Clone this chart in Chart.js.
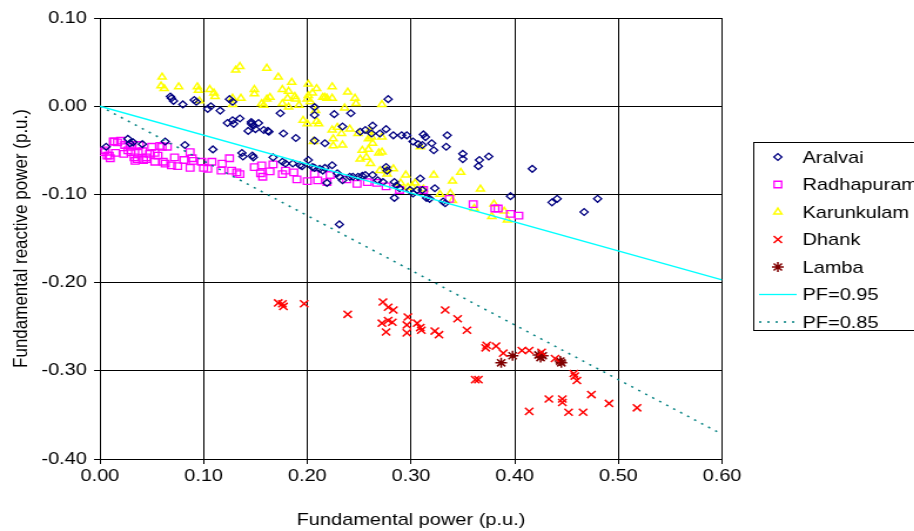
<!DOCTYPE html>
<html>
<head>
<meta charset="utf-8">
<script src="https://cdn.jsdelivr.net/npm/chart.js@4.4.0/dist/chart.umd.min.js"></script>
<style>
  html, body { margin: 0; padding: 0; overflow: hidden; background: #fff; }
  #wrap { width: 800px; height: 531px; transform: scaleX(1.175); transform-origin: 0 0; }
</style>
</head>
<body>
<div id="wrap"><canvas id="pq" width="800" height="531"></canvas></div>
<script>
// fundamental power P vs reactive power Q (p.u.)
var xTickLabels = ["0.00", "0.10", "0.20", "0.30", "0.40", "0.50", "0.60"];
var yTickLabels = ["-0.40", "-0.30", "-0.20", "-0.10", "0.00", "0.10"];
var seriesNames = ["Aralvai", "Radhapuram", "Karunkulam", "Dhank", "Lamba", "PF=0.95", "PF=0.85"];

var aralvai = [
  [0.006,-0.046],[0.027,-0.037],[0.029,-0.042],[0.032,-0.041],[0.041,-0.043],[0.063,-0.040],[0.082,-0.044],
  [0.109,-0.049],[0.137,-0.053],[0.138,-0.057],[0.147,-0.056],[0.148,-0.058],[0.167,-0.058],[0.176,-0.063],
  [0.179,-0.065],[0.186,-0.065],[0.195,-0.068],[0.201,-0.061],[0.207,-0.070],[0.212,-0.071],[0.215,-0.073],
  [0.219,-0.087],[0.229,-0.076],[0.241,-0.080],[0.244,-0.080],[0.249,-0.080],[0.256,-0.078],[0.263,-0.078],
  [0.268,-0.084],[0.273,-0.086],[0.284,-0.086],[0.286,-0.090],[0.284,-0.104],[0.289,-0.093],[0.302,-0.099],
  [0.309,-0.082],[0.311,-0.095],[0.315,-0.104],[0.318,-0.105],[0.331,-0.108],[0.333,-0.110],[0.323,-0.093],
  [0.396,-0.102],[0.436,-0.109],[0.441,-0.105],[0.467,-0.120],[0.480,-0.105],
  [0.068,0.011],[0.071,0.006],[0.069,0.009],[0.080,0.002],[0.091,0.007],[0.093,0.005],[0.104,-0.003],
  [0.107,0.000],[0.116,-0.005],[0.125,0.008],[0.128,0.005],[0.123,-0.019],[0.128,-0.016],[0.129,-0.020],
  [0.135,-0.014],[0.146,-0.018],[0.146,-0.020],[0.148,-0.022],[0.143,-0.028],[0.150,-0.026],[0.153,-0.019],
  [0.158,-0.027],[0.162,-0.028],[0.163,-0.029],[0.174,-0.008],[0.177,-0.031],[0.189,-0.036],[0.278,0.008],
  [0.207,-0.010],[0.207,-0.001],[0.226,-0.009],[0.242,-0.008],[0.234,-0.023],[0.263,-0.022],[0.276,-0.026],
  [0.251,-0.029],[0.256,-0.027],[0.262,-0.031],[0.270,-0.031],[0.283,-0.033],[0.291,-0.033],[0.296,-0.033],
  [0.312,-0.032],[0.207,-0.039],[0.217,-0.042],[0.302,-0.040],[0.307,-0.043],[0.311,-0.044],[0.314,-0.035],
  [0.320,-0.042],[0.322,-0.050],[0.335,-0.033],[0.334,-0.046],[0.350,-0.054],[0.350,-0.060],[0.366,-0.061],
  [0.365,-0.068],[0.375,-0.057],[0.417,-0.071],[0.193,-0.067],[0.205,-0.069],[0.217,-0.070],[0.224,-0.067],
  [0.231,-0.080],[0.234,-0.084],[0.253,-0.079],[0.276,-0.069],[0.277,-0.073],[0.299,-0.095],[0.306,-0.095],
  [0.231,-0.134]
];

var radhapuram = [
  [0.003,-0.052],[0.005,-0.050],[0.007,-0.056],[0.009,-0.056],[0.010,-0.059],[0.013,-0.040],[0.014,-0.040],
  [0.017,-0.041],[0.020,-0.039],[0.015,-0.053],[0.023,-0.054],[0.024,-0.044],[0.027,-0.050],[0.029,-0.046],
  [0.031,-0.044],[0.030,-0.052],[0.033,-0.058],[0.036,-0.060],[0.037,-0.053],[0.038,-0.044],[0.041,-0.051],
  [0.034,-0.062],[0.042,-0.061],[0.045,-0.058],[0.045,-0.060],[0.048,-0.054],[0.050,-0.046],[0.053,-0.053],
  [0.053,-0.063],[0.056,-0.056],[0.058,-0.045],[0.060,-0.046],[0.065,-0.046],[0.061,-0.063],[0.063,-0.065],
  [0.069,-0.067],[0.072,-0.058],[0.075,-0.068],[0.081,-0.061],[0.087,-0.052],[0.089,-0.059],[0.090,-0.062],
  [0.087,-0.070],[0.098,-0.063],[0.100,-0.070],[0.104,-0.071],[0.108,-0.063],[0.117,-0.073],[0.118,-0.065],
  [0.125,-0.059],[0.127,-0.073],[0.132,-0.075],[0.135,-0.077],[0.149,-0.069],[0.155,-0.076],[0.156,-0.067],
  [0.157,-0.080],[0.164,-0.074],[0.167,-0.066],[0.176,-0.077],[0.179,-0.073],[0.187,-0.075],[0.190,-0.083],
  [0.200,-0.085],[0.207,-0.077],[0.210,-0.084],[0.222,-0.078],[0.219,-0.086],[0.238,-0.083],[0.248,-0.088],
  [0.258,-0.086],[0.267,-0.087],[0.276,-0.091],[0.289,-0.095],[0.312,-0.095],[0.337,-0.105],[0.360,-0.111],
  [0.381,-0.116],[0.384,-0.116],[0.396,-0.122],[0.404,-0.124]
];

var karunkulam = [
  [0.060,0.033],[0.059,0.023],[0.062,0.020],[0.076,0.022],[0.094,0.022],[0.095,0.018],[0.096,0.006],
  [0.106,0.019],[0.110,0.015],[0.111,0.011],[0.131,0.041],[0.135,0.045],[0.161,0.043],[0.172,0.033],
  [0.128,0.009],[0.136,0.009],[0.128,0.002],[0.149,0.019],[0.149,0.014],[0.156,0.003],[0.158,0.001],
  [0.164,0.010],[0.161,0.008],[0.185,0.027],[0.176,0.019],[0.182,0.017],[0.181,0.009],[0.188,0.011],
  [0.189,0.008],[0.176,0.003],[0.182,-0.001],[0.192,0.001],[0.201,0.025],[0.201,0.012],[0.200,0.008],
  [0.203,0.005],[0.209,0.020],[0.205,0.015],[0.224,0.022],[0.215,0.010],[0.217,0.010],[0.219,0.009],
  [0.224,0.009],[0.239,0.016],[0.246,0.009],[0.247,0.003],[0.236,-0.002],[0.272,0.002],[0.208,-0.005],
  [0.196,-0.016],[0.200,-0.020],[0.209,-0.017],[0.211,-0.020],[0.224,-0.027],[0.229,-0.024],[0.233,-0.031],
  [0.241,-0.026],[0.249,-0.031],[0.260,-0.028],[0.206,-0.040],[0.225,-0.037],[0.234,-0.044],[0.225,-0.045],
  [0.262,-0.035],[0.259,-0.037],[0.263,-0.042],[0.253,-0.050],[0.259,-0.049],[0.272,-0.035],[0.269,-0.053],
  [0.272,-0.052],[0.251,-0.060],[0.257,-0.058],[0.261,-0.065],[0.270,-0.073],[0.276,-0.073],[0.283,-0.071],
  [0.277,-0.077],[0.295,-0.078],[0.290,-0.087],[0.297,-0.092],[0.304,-0.087],[0.312,-0.094],[0.322,-0.078],
  [0.328,-0.100],[0.340,-0.085],[0.338,-0.099],[0.340,-0.107],[0.309,-0.046],[0.348,-0.075],[0.367,-0.094],
  [0.361,-0.116],[0.380,-0.111],[0.378,-0.125],[0.390,-0.119],[0.393,-0.129],[0.301,-0.091]
];

var dhank = [
  [0.172,-0.223],[0.176,-0.224],[0.177,-0.227],[0.197,-0.224],[0.239,-0.236],[0.273,-0.222],[0.278,-0.228],
  [0.283,-0.231],[0.272,-0.246],[0.278,-0.243],[0.282,-0.245],[0.276,-0.256],[0.297,-0.239],[0.296,-0.248],
  [0.296,-0.257],[0.306,-0.246],[0.309,-0.251],[0.310,-0.254],[0.323,-0.255],[0.327,-0.259],[0.333,-0.231],
  [0.345,-0.241],[0.354,-0.254],[0.373,-0.271],[0.372,-0.274],[0.382,-0.272],[0.389,-0.280],[0.362,-0.310],
  [0.365,-0.310],[0.407,-0.277],[0.414,-0.277],[0.426,-0.279],[0.439,-0.286],[0.457,-0.303],[0.458,-0.306],
  [0.460,-0.311],[0.414,-0.346],[0.433,-0.332],[0.446,-0.332],[0.446,-0.336],[0.452,-0.347],[0.466,-0.347],
  [0.474,-0.327],[0.491,-0.337],[0.518,-0.342]
];

var lamba = [
  [0.387,-0.291],[0.398,-0.283],[0.423,-0.282],[0.425,-0.285],[0.427,-0.283],[0.444,-0.289],[0.445,-0.291]
];

// power factor reference lines, end points
var pf95 = [[0.0, 0.0], [0.6, -0.197]];
var pf85 = [[0.0, 0.0], [0.6, -0.372]];

function pts(arr) {
  return arr.map(function (p) { return { x: p[0], y: p[1] }; });
}

var fontFamily = '"Liberation Sans", Arial, sans-serif';
Chart.defaults.font.family = fontFamily;
Chart.defaults.font.size = 17;
Chart.defaults.color = "#000";

function markerSet(label, data, style, color, radius, width) {
  return {
    label: label,
    data: pts(data),
    pointStyle: style,
    pointRadius: radius,
    pointHoverRadius: radius,
    borderColor: color,
    backgroundColor: "rgba(0,0,0,0)",
    borderWidth: width,
    pointBorderWidth: width,
    showLine: false
  };
}

// legend drawn by hand so it can sit in its own box and run off the right edge like the original
var boxLegend = {
  id: "boxLegend",
  afterDraw: function (chart) {
    var ctx = chart.ctx;
    ctx.save();
    ctx.strokeStyle = "#000";
    ctx.lineWidth = 1;
    ctx.setLineDash([]);
    ctx.strokeRect(641.5, 142.5, 200, 188);
    ctx.font = "17px " + fontFamily;
    ctx.textBaseline = "middle";
    ctx.textAlign = "left";
    chart.data.datasets.forEach(function (ds, i) {
      var y = 157 + i * 27.5;
      ctx.strokeStyle = ds.borderColor;
      ctx.lineWidth = ds.borderWidth;
      if (ds.showLine) {
        ctx.setLineDash(ds.borderDash || []);
        ctx.beginPath();
        ctx.moveTo(646, y);
        ctx.lineTo(678, y);
        ctx.stroke();
        ctx.setLineDash([]);
      } else {
        ctx.fillStyle = "rgba(0,0,0,0)";
        Chart.helpers.drawPoint(ctx, {
          pointStyle: ds.pointStyle,
          radius: ds.pointRadius,
          rotation: 0,
          borderWidth: ds.borderWidth
        }, 662, y);
      }
      ctx.fillStyle = "#000";
      ctx.fillText(ds.label, 683, y + 1);
    });
    ctx.restore();
  }
};

var ctx = document.getElementById("pq").getContext("2d");
var pqChart = new Chart(ctx, {
  type: "scatter",
  data: {
    datasets: [
      markerSet(seriesNames[0], aralvai, "rectRot", "#000080", 3.4, 1.3),
      markerSet(seriesNames[1], radhapuram, "rect", "#FF00FF", 4.6, 1.3),
      markerSet(seriesNames[2], karunkulam, "triangle", "#FFFF00", 3.9, 1.5),
      markerSet(seriesNames[3], dhank, "crossRot", "#FF0000", 5, 1.5),
      markerSet(seriesNames[4], lamba, "star", "#800000", 5, 1.5),
      {
        label: seriesNames[5],
        data: pts(pf95),
        showLine: true,
        borderColor: "#00FFFF",
        borderWidth: 1.3,
        pointRadius: 0,
        order: -1
      },
      {
        label: seriesNames[6],
        data: pts(pf85),
        showLine: true,
        borderColor: "#008080",
        borderWidth: 1.5,
        borderDash: [2, 5],
        pointRadius: 0,
        order: -1
      }
    ]
  },
  options: {
    responsive: false,
    animation: false,
    layout: { padding: { top: 18, right: 185.5, left: 0, bottom: 0 } },
    plugins: {
      legend: { display: false },
      tooltip: { enabled: false }
    },
    scales: {
      x: {
        type: "linear",
        min: 0,
        max: 0.6,
        ticks: {
          stepSize: 0.1,
          padding: 2,
          callback: function (v, i) { return xTickLabels[i]; }
        },
        grid: { color: "#000", lineWidth: 1, tickLength: 5 },
        border: { color: "#000" },
        title: {
          display: true,
          text: "Fundamental power (p.u.)",
          padding: { top: 0, bottom: 0 }
        },
        afterFit: function (s) { s.height = 72; }
      },
      y: {
        type: "linear",
        min: -0.4,
        max: 0.1,
        ticks: {
          stepSize: 0.1,
          padding: 6,
          callback: function (v, i) { return yTickLabels[i]; }
        },
        grid: { color: "#000", lineWidth: 1, tickLength: 5 },
        border: { color: "#000" },
        title: {
          display: true,
          text: "Fundamental reactive power (p.u.)",
          padding: { top: 8, bottom: 0 }
        },
        afterFit: function (s) { s.width = 85; }
      }
    }
  },
  plugins: [boxLegend]
});
</script>
</body>
</html>
